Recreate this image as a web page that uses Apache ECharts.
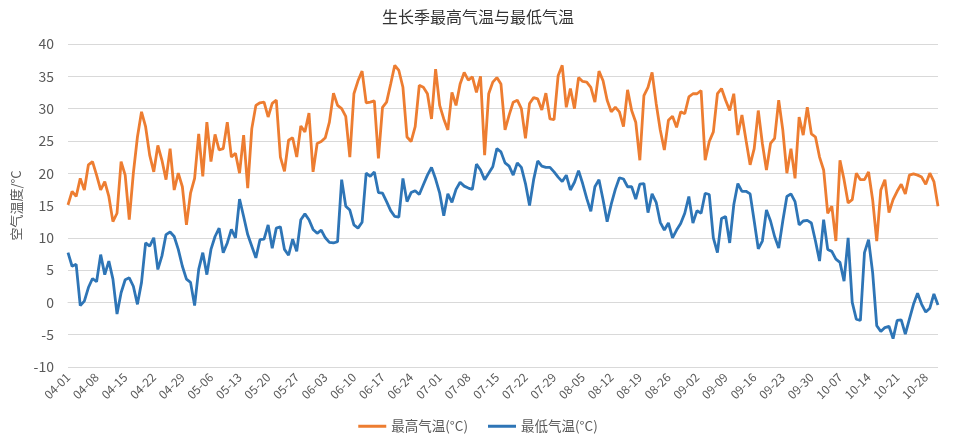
<!DOCTYPE html>
<html>
<head>
<meta charset="utf-8">
<script src="https://cdn.jsdelivr.net/npm/echarts@6/dist/echarts.min.js"></script>
<style>html,body{margin:0;padding:0;background:#fff;}#c{width:956px;height:442px;}</style>
</head>
<body>
<div id="c"></div>
<script>
// Dates 04-01 .. 10-31
const monthDays = [["04",30],["05",31],["06",30],["07",31],["08",31],["09",30],["10",31]];
const categories = [];
monthDays.forEach(([m,n]) => { for (let d = 1; d <= n; d++) categories.push(m + "-" + String(d).padStart(2,"0")); });

const tmax = [
15.1,17.2,16.4,19.2,17.4,21.3,21.8,19.7,17.4,18.7,16.4,12.5,13.8,21.8,19.7,12.8,20,25.6,29.5,27.2,
22.8,20.2,24.3,22,19,23.8,17.4,20,17.9,12,16.9,19.2,26.1,19.5,27.9,21.8,26,23.6,23.8,27.9,
22.5,23.1,20,25.9,17.7,26.9,30.5,30.9,31,28.7,30.8,31.3,22.5,20.3,25.1,25.5,22.5,27.3,26.4,29.3,
20.2,24.6,24.9,25.5,27.9,32.4,30.5,30,28.8,22.5,32.3,34.3,35.8,30.9,31,31.2,22.3,30.2,31,33.8,
36.7,35.9,33.3,25.6,24.9,27.2,33.6,33.3,32.3,28.4,36.1,30.5,28.4,26.7,32.5,30.5,33.8,35.6,34.4,34.9,
32.5,35,22.8,32.3,34.1,34.8,33.8,26.7,29,31,31.3,30,25.4,30.8,31.7,31.5,29.8,32.4,28.4,28.3,
35.1,36.7,30.2,33.1,30,34.8,34.2,34.1,33.3,31,35.8,34.3,31.3,29.5,30.2,29.5,27.2,32.9,29.7,27.9,
22,32,33.3,35.6,30.8,26.7,23.6,28.2,28.8,27.1,29.5,29.2,31.8,32.3,32.3,32.8,22,24.9,26.4,32.3,
33.1,31.3,29.7,32.3,25.9,29,25.1,21.3,23.8,29.7,24.6,20.5,24.6,25.4,31.3,26.7,20,23.8,19.2,28.7,
25.9,30.2,26.1,25.6,22.5,20.5,13.8,14.9,9.5,22,19,15.4,15.9,20,19,19,20.2,15.9,9.5,17.4,
19,13.9,15.9,17.2,18.3,16.8,19.7,19.9,19.7,19.4,18.3,20,18.7,14.9
];
const tmin = [
7.7,5.6,5.9,-0.5,0.2,2.3,3.7,3.2,7.4,4.3,6.4,3.6,-1.8,1.5,3.5,3.8,2.5,-0.3,3.1,9.2,
8.7,10,5.1,7.2,10.5,10.9,10.2,8.2,5.6,3.6,3.1,-0.5,5.1,7.7,4.3,8.2,10.2,11.5,7.7,9.2,
11.3,10,16,13.3,10.5,8.7,6.9,9.7,9.8,12,8.4,11.5,11.7,8.2,7.3,9.8,7.9,12.8,13.7,12.8,
11.3,10.7,11.2,10,9.3,9.2,9.4,19,14.9,14.3,12,11.5,12.4,20,19.5,20.2,17,16.9,15.6,14.2,
13.3,13.2,19.2,15.6,17,17.3,16.7,18.2,19.7,20.9,19.1,16.9,13.4,16.8,15.5,17.5,18.6,18,17.7,17.5,
21.4,20.5,19,20,21,23.8,23.3,21.6,21.1,19.7,21.6,20.9,18.4,15,19,21.9,21.1,20.9,20.9,20.2,
19.4,18.7,19.7,17.4,18.6,20.4,18.4,16.1,14.1,17.9,19,15.9,12.5,15.2,17.5,19.3,19.1,17.9,17.9,16,
18.3,18.4,13.9,16.8,15.5,12.4,11.2,12.3,10,11.2,12.2,13.8,16.4,12.3,14.2,13.8,16.9,16.7,10,7.7,
13,13.3,9.2,15.1,18.4,17.2,17.2,16.8,12.6,8.3,9.5,14.3,12.6,10.2,8.4,12.6,16.4,16.8,15.6,12,
12.6,12.7,12.3,9.5,6.4,12.8,8.2,7.9,6.7,6.2,3.3,10,0,-2.6,-2.8,7.7,9.7,4.6,-3.6,-4.5,
-3.9,-3.7,-5.6,-2.8,-2.7,-4.9,-2.6,-0.3,1.4,-0.3,-1.5,-0.9,1.3,-0.4
];
const seriesNames = ["最高气温(°C)", "最低气温(°C)"];
const titleText = "生长季最高气温与最低气温";
const yName = "空气温度/°C";

const chart = echarts.init(document.getElementById('c'));
const font = '"Noto Sans CJK SC", "Noto Sans", sans-serif';
chart.setOption({
  animation: false,
  textStyle: { fontFamily: font },
  title: { text: titleText, left: 'center', top: 4,
    textStyle: { fontSize: 16, fontWeight: 'normal', color: '#333', fontFamily: font } },
  legend: { bottom: 4, left: 'center', itemWidth: 28, itemHeight: 3, itemGap: 20,
    icon: 'rect',
    textStyle: { fontSize: 13.5, color: '#595959', fontFamily: font },
    data: seriesNames },
  grid: { left: 68, right: 18, top: 44, bottom: 75 },
  xAxis: { type: 'category', data: categories, boundaryGap: false,
    axisLine: { show: true, lineStyle: { color: '#d9d9d9' } },
    axisTick: { show: false },
    axisLabel: { interval: 6, rotate: 45, fontSize: 12, color: '#595959', margin: 8, fontFamily: font } },
  yAxis: { type: 'value', min: -10, max: 40, interval: 5,
    name: yName, nameLocation: 'middle', nameGap: 44, nameRotate: 90,
    nameTextStyle: { fontSize: 13, color: '#595959', fontFamily: font },
    axisLine: { show: false }, axisTick: { show: false },
    axisLabel: { fontSize: 14, color: '#595959', margin: 14, fontFamily: font },
    splitLine: { lineStyle: { color: '#d9d9d9', width: 1 } } },
  series: [
    { name: seriesNames[0], type: 'line', data: tmax, showSymbol: false, symbol: 'none',
      lineStyle: { color: '#ED7D31', width: 2.8 }, itemStyle: { color: '#ED7D31' } },
    { name: seriesNames[1], type: 'line', data: tmin, showSymbol: false, symbol: 'none',
      lineStyle: { color: '#2E75B6', width: 2.8 }, itemStyle: { color: '#2E75B6' } }
  ]
});
</script>
</body>
</html>
